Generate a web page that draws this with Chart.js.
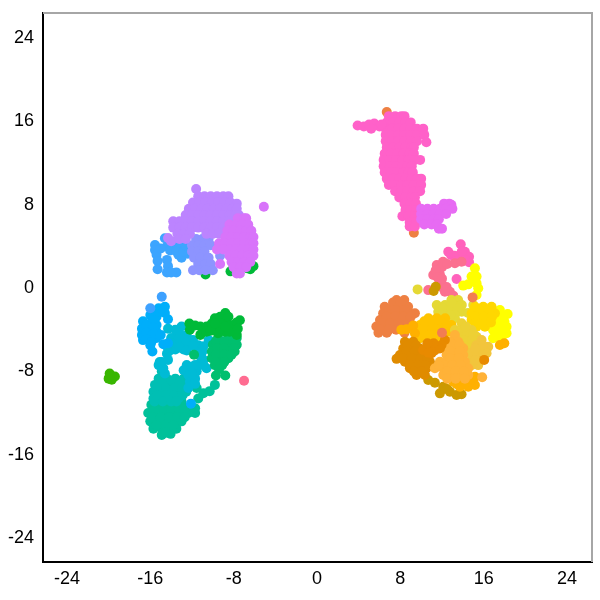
<!DOCTYPE html>
<html>
<head>
<meta charset="utf-8">
<script src="https://cdn.jsdelivr.net/npm/chart.js@4"></script>
<style>
html, body { margin: 0; padding: 0; background: #fff; }
#wrap { width: 600px; height: 600px; }
</style>
</head>
<body>
<div id="wrap"><canvas id="umapChart" width="600" height="600"></canvas></div>
<script>
var tickValues = [-24, -16, -8, 0, 8, 16, 24];

var tealLowerPts = [[-15.9,-11.3],[-15.1,-11.3],[-14.3,-11.3],[-13.6,-11.3],[-13,-11.3],[-13,-11],[-16.2,-12.1],[-15.4,-12.1],[-14.6,-12.1],[-13.8,-12.1],[-13,-12.1],[-12.35,-12.1],[-11.7,-12.1],[-16,-12.9],[-15.2,-12.9],[-14.4,-12.9],[-13.6,-12.9],[-13,-12.9],[-15.7,-13.6],[-14.9,-13.6],[-14.1,-13.6],[-13.5,-13.6],[-14.9,-14.2],[-14.05,-14.1],[-9.8,-9.4],[-10.3,-10],[-10.9,-10.2],[-11.4,-10.7],[-11.55,-9.7],[-11.7,-11.65],[-15.5,-11.7],[-14.7,-11.7],[-14,-11.7],[-13.3,-11.7],[-12.7,-11.7],[-15.8,-12.5],[-15,-12.5],[-14.2,-12.5],[-13.4,-12.5],[-12.7,-12.5],[-15.4,-13.25],[-14.5,-13.25],[-13.8,-13.25],[-14.5,-14]];
var tealUpperPts = [[-14.9,-8.1],[-15.2,-8.8],[-14.4,-8.8],[-13.6,-8.8],[-12.8,-8.8],[-15.55,-9.4],[-14.75,-9.4],[-13.95,-9.4],[-13.15,-9.4],[-12.55,-9.4],[-15.7,-10.05],[-14.9,-10.05],[-14.1,-10.05],[-13.3,-10.05],[-12.55,-10.05],[-15.7,-10.7],[-14.9,-10.7],[-14.1,-10.7],[-13.3,-10.7],[-14.8,-9.1],[-14,-9.1],[-13.2,-9.1],[-15.3,-9.7],[-14.5,-9.7],[-13.7,-9.7],[-12.9,-9.7],[-15.3,-10.4],[-14.5,-10.4],[-13.7,-10.4],[-12.9,-10.4],[-15.6,-11],[-14.8,-11],[-14,-11],[-13.5,-11]];
var cyanPts = [[-14.3,-4],[-13.6,-4.1],[-13,-3.8],[-13.15,-4.6],[-12.5,-4.6],[-14,-4.9],[-11.9,-5.1],[-12.2,-5.6],[-13,-5.4],[-13.6,-5.4],[-14.4,-5.7],[-11.4,-5.6],[-10.4,-5.1],[-10.9,-5.7],[-11.5,-6],[-11.1,-6.7],[-14.4,-6.4],[-15.1,-7.2],[-15.2,-7.5],[-14.3,-7],[-13.6,-6],[-12.8,-6],[-12.5,-7.5],[-12.8,-8],[-12,-7.65],[-11.2,-7.3],[-10.6,-7.8],[-11.55,-8.1],[-12.35,-8.45],[-12.2,-9.1],[-11.7,-8.8],[-14.6,-8.3],[-14.75,-7.8],[-10.9,-7],[-12.35,-9.7],[-13.3,-4.4],[-12.8,-5],[-13.3,-5],[-12.5,-5.3],[-13.9,-5.7],[-13.2,-5.8],[-12.5,-6.1],[-14.1,-6.1],[-14,-5.4],[-11.9,-5.6],[-11,-6.2],[-11.4,-6.5],[-10.9,-7.5],[-11.7,-7.5],[-12,-8.3],[-14.9,-7.2],[-11.7,-9.3]];
var skyPts = [[-15.2,-2.05],[-14.6,-1.9],[-14.6,-2.5],[-15.4,-2.85],[-16,-2.7],[-16.7,-3.3],[-16,-3.5],[-15.4,-3.65],[-16.8,-4],[-16,-4.1],[-15.4,-4.3],[-16.7,-5.1],[-16,-4.9],[-15.4,-4.9],[-15.8,-6.2],[-16,-5.6],[-14.3,-3.1],[-16.8,-4.6],[-14.3,-5.4],[-14.75,-5.5],[-12.1,-11.2],[-15.7,-3.1],[-16.4,-3.7],[-15.7,-3.9],[-16.4,-4.4],[-15.7,-4.5],[-16.4,-5],[-15.9,-5.3],[-15.1,-2.4],[-15.7,-2.3],[-15,-4.6]];
var blueTipPts = [[-14.9,-0.93],[-16,-2.05]];
var greenTealPts = [[-9.5,-4.9],[-8.5,-4.9],[-7.7,-4.9],[-10,-5.55],[-9.2,-5.55],[-8.35,-5.55],[-7.7,-5.55],[-10.1,-6.2],[-9.3,-6.2],[-8.5,-6.2],[-7.9,-6.2],[-10.1,-6.85],[-9.3,-6.85],[-8.5,-6.85],[-9.8,-7.5],[-9.1,-7.5],[-9.7,-8.5],[-8.8,-8.5],[-11.8,-6.5],[-9.7,-5.2],[-8.9,-5.2],[-8,-5.2],[-9.6,-5.9],[-8.9,-5.9],[-8,-5.9],[-9.7,-6.5],[-8.9,-6.5],[-8.2,-6.5],[-9.7,-7.2],[-8.9,-7.2],[-9.4,-7.9]];
var greenPts = [[-12.25,-3.5],[-12.2,-4.1],[-11.2,-3.8],[-11.2,-4.6],[-10.6,-3.8],[-9.8,-3],[-9.8,-4],[-8.8,-2.5],[-8.8,-3.3],[-8,-3.65],[-7.4,-3.2],[-8,-4.3],[-8.8,-4.3],[-9.5,-4.45],[-10.1,-3.5],[-9.3,-2.85],[-8.5,-2.85],[-7.7,-4.6],[-10.7,1.2],[-8.3,1.5],[-6.7,1.8],[-6.1,2],[-6.4,1.7],[-9.3,-3.5],[-8.4,-3.7],[-9.3,-4],[-8.4,-4.3],[-10.6,-4.3],[-10.2,-4.2],[-11.7,-3.7],[-9.8,-3.5],[-7.7,-3.4],[-8.8,-3.8],[-7.6,-4]];
var limePts = [[-19.9,-8.3],[-20,-8.8],[-19.7,-8.9],[-19.4,-8.6],[-19.9,-8.6]];
var coralDotPts = [[-7,-9]];
var bluePts = [[-15.55,4.03],[-15.55,3.55],[-15.4,3.1],[-15.3,2.5],[-15.3,1.7],[-14.6,4.67],[-14.4,3.9],[-13.8,3.9],[-13.2,3.9],[-12.7,3.6],[-13.3,3.1],[-13,2.8],[-14.4,2.6],[-14.3,2],[-14.4,1.4],[-13.5,1.4],[-14,1.4],[-15,3.7],[-14.1,3.5],[-13.5,3.4],[-12.4,3.2],[-12.8,3.4],[-12.6,4]];
var periwinklePts = [[-10.6,5.2],[-11.6,4.6],[-11,4.6],[-10.4,4.6],[-12,4],[-11.4,4],[-10.8,4],[-10.2,4],[-12,3.4],[-11.4,3.4],[-10.8,3.4],[-11.8,2.8],[-11.2,2.8],[-10.4,2.8],[-11.4,2.2],[-10.7,2.2],[-10.2,2.2],[-11.9,1.6],[-11.3,1.6],[-10.7,1.6],[-10,1.6],[-9.3,3]];
var violetPts = [[-11.6,9.4],[-11.4,8.7],[-10.8,8.7],[-10.2,8.7],[-9.6,8.7],[-9,8.7],[-8.5,8.7],[-11.9,8.1],[-11.3,8.1],[-10.7,8.1],[-10.1,8.1],[-9.5,8.1],[-8.9,8.1],[-8.3,8.1],[-7.7,8],[-12.3,7.5],[-11.7,7.5],[-11.1,7.5],[-10.5,7.5],[-9.9,7.5],[-9.3,7.5],[-8.7,7.5],[-8.1,7.5],[-7.7,7.5],[-12.6,6.9],[-12,6.9],[-11.4,6.9],[-10.8,6.9],[-10.2,6.9],[-9.6,6.9],[-9,6.9],[-8.4,6.9],[-7.8,6.9],[-7.5,6.9],[-13.8,6.3],[-13.2,6.3],[-12.6,6.3],[-12,6.3],[-11.4,6.3],[-10.8,6.3],[-10.2,6.3],[-9.6,6.3],[-9,6.3],[-8.4,6.3],[-13.8,5.7],[-13.2,5.7],[-12.6,5.7],[-12,5.7],[-11.4,5.7],[-10.8,5.7],[-10.2,5.7],[-9.6,5.7],[-9,5.7],[-13.4,5.1],[-12.8,5.1],[-12.2,5.1],[-10.6,5.1],[-10,5.1],[-9.4,5.1],[-14.3,4.7],[-14,4.4],[-13.2,4.6],[-12.6,4.6]];
var orchidPts = [[-5.1,7.7],[-7.6,6.6],[-7,6.6],[-6.8,6.6],[-8.4,6],[-7.8,6],[-7.2,6],[-6.6,6],[-8.6,5.4],[-8,5.4],[-7.4,5.4],[-6.8,5.4],[-6.3,5.4],[-8.8,4.8],[-8.2,4.8],[-7.6,4.8],[-7,4.8],[-6.4,4.8],[-6.1,4.8],[-9.4,4.2],[-8.8,4.2],[-8.2,4.2],[-7.6,4.2],[-7,4.2],[-6.4,4.2],[-6.1,4.2],[-9.6,3.6],[-9,3.6],[-8.4,3.6],[-7.8,3.6],[-7.2,3.6],[-6.6,3.6],[-6.1,3.6],[-8.4,3],[-7.8,3],[-7.2,3],[-6.6,3],[-6.1,3],[-8.2,2.4],[-7.6,2.4],[-7,2.4],[-6.4,2.4],[-8,1.9],[-7.4,1.9],[-6.8,1.9],[-7.7,1.3],[-7.4,1.3],[-9.3,2.2]];

var orangeTopPts = [[6.7,16.8],[9.3,5.2]];
var magentaPts = [[6.9,16.4],[7.5,16.4],[8.1,16.4],[8.4,16.4],[6.7,15.8],[7.3,15.8],[7.9,15.8],[8.5,15.8],[9,15.8],[6.6,15.2],[7.2,15.2],[7.8,15.2],[8.4,15.2],[9,15.2],[9.6,15.2],[10.2,15.2],[6.6,14.6],[7.2,14.6],[7.8,14.6],[8.4,14.6],[9,14.6],[9.6,14.6],[10.3,14.6],[6.6,14],[7.2,14],[7.8,14],[8.4,14],[9,14],[9.6,14],[10.5,13.9],[6.7,13.4],[7.3,13.4],[7.9,13.4],[8.5,13.4],[9.1,13.4],[9.3,13.4],[6.5,12.8],[7.1,12.8],[7.7,12.8],[8.3,12.8],[8.9,12.8],[9.3,12.8],[6.4,12.2],[7,12.2],[7.6,12.2],[8.2,12.2],[8.8,12.2],[9.9,12.2],[9.4,12.2],[6.4,11.6],[7,11.6],[7.6,11.6],[8.2,11.6],[8.7,11.6],[9.1,11.6],[6.5,11],[7.1,11],[7.7,11],[8.3,11],[8.8,11],[9.2,11],[6.7,10.4],[7.3,10.4],[7.9,10.4],[8.5,10.4],[9.1,10.4],[9.6,10.4],[10,10.4],[6.9,9.8],[7.5,9.8],[8.1,9.8],[8.7,9.8],[9.3,9.8],[10,9.8],[7.5,9.2],[8.1,9.2],[8.7,9.2],[9.3,9.2],[9.9,9.2],[7.9,8.6],[8.5,8.6],[9.1,8.6],[9.4,8.6],[8.4,8],[9,8],[9.5,8],[8.5,7.4],[9,7.4],[9.5,7.4],[8.2,6.8],[8.8,6.8],[9.4,6.8],[8.9,6.2],[9.5,6.2],[8.9,5.8],[9.4,5.8],[3.9,15.5],[4.5,15.4],[5,15.6],[5.5,15.7],[6,15.4],[5.2,15.2],[6.2,15.6]];
var pinkPurplePts = [[12.2,8],[12.7,8],[12.9,7.9],[10,7.5],[10.6,7.5],[11.2,7.5],[11.8,7.5],[12.4,7.5],[13,7.5],[10,7],[10.6,7],[11.2,7],[11.8,7],[12.4,7],[10,6.5],[10.6,6.5],[11.2,6.5],[11.7,6.5],[10.3,6],[11,6],[11.5,6],[11.7,5.6],[12,5.6]];

var pinkPts = [[12.6,3.39],[12.86,3.07],[13.8,4.1],[14.2,3.39],[14.6,2.91],[14.6,2.37],[13.88,2.91],[13.4,0.77],[13.4,2.9],[13.2,3],[13.9,3.4],[14.2,2.6],[13.3,2.5]];
var salmonPts = [[11.5,2.1],[12.1,2.43],[11.16,1.15],[11.8,1.2],[11.96,0.35],[12.44,0],[12.76,-0.45],[13.08,-0.83],[10.68,-0.3],[12.28,-0.45],[13.24,2.27],[13.88,2.43],[11.7,1.7],[12,1.9],[11.4,1.6],[12.5,2.2],[11.6,0.9],[12.1,-0.1],[12,0.8]];
var redOrangePts = [[14.94,-1],[12,-4.4]];
var orangePts = [[7.64,-1.25],[8.38,-1.25],[6.5,-1.9],[7.3,-1.9],[8.1,-1.9],[8.75,-1.9],[6.35,-2.53],[7.15,-2.53],[7.95,-2.53],[8.75,-2.53],[9.4,-2.53],[6.05,-3.17],[6.85,-3.17],[7.65,-3.17],[8.45,-3.17],[5.7,-3.8],[6.5,-3.8],[7.3,-3.8],[8.1,-3.8],[8.9,-3.8],[5.9,-4.4],[6.7,-4.4],[8.4,-4.4],[8.9,-3.4],[7.3,-1.5],[8,-1.5],[6.9,-2.2],[7.5,-2.2],[8.4,-2.2],[6.7,-2.85],[7.5,-2.85],[8.3,-2.85],[9,-2.85],[6.2,-3.5],[7,-3.5],[7.8,-3.5],[8.5,-3.6],[6.1,-4.1],[6.9,-4.1],[7.6,-4.1]];
var yellowPts = [[15.16,1.79],[14.84,1],[15.32,1],[15.32,0.35],[14.04,0.13],[14.52,0.25],[15.48,-0.13],[15.32,-0.77],[18.3,-2.6],[17.56,-2.21],[17.4,-3],[18,-3.33],[18.2,-3.81],[17.4,-3.81],[17.56,-4.45],[18.2,-4.45],[16.9,-4.13],[16.9,-4.93],[17.7,-4.93],[17.8,-2.8],[17.7,-3.4],[17.8,-4.1],[17.1,-3.6],[17.2,-4.5],[17.3,-3.3],[17.9,-4.5]];
var oliveYellowPts = [[9.66,-0.23],[12.9,-1.25],[13.55,-1.25],[11.5,-1.73],[12.3,-1.73],[13.1,-1.73],[13.9,-1.73],[11.64,-2.37],[12.44,-2.37],[13.24,-2.37],[13.9,-2.37],[12.44,-3],[13.24,-3],[15,-1.73],[14.5,-2.5],[12.1,-2.05],[12.9,-2.05],[13.5,-2.05],[12.9,-1.5],[13.2,-2.7],[12.8,-2.7],[12,-2.7]];
var darkGoldPts = [[11.4,0.03],[11.2,-0.39],[10.68,-8.93],[11.32,-9.19],[12.12,-9.57],[11.8,-10.21],[12.76,-10.05],[13.4,-10.37],[13.88,-10.3],[12.5,-9.8]];
var goldPts = [[15.16,-1.89],[15.96,-1.89],[16.76,-1.89],[14.84,-2.53],[15.64,-2.53],[16.44,-2.53],[17.08,-2.53],[14.84,-3.17],[15.64,-3.17],[16.44,-3.17],[15.32,-3.81],[16.12,-3.81],[15.5,-2.2],[16.3,-2.2],[15.2,-2.85],[16,-2.85],[16.8,-2.85],[15.2,-3.5],[16,-3.5],[16.7,-3.4]];
var amberPts = [[10.7,-3],[11.5,-3],[12.3,-3],[9.9,-3.65],[10.7,-3.65],[11.5,-3.65],[12.3,-3.65],[12.9,-3.65],[9.7,-4.3],[10.5,-4.3],[11.3,-4.3],[12.1,-4.3],[12.75,-4.3],[9.9,-4.93],[10.7,-4.93],[11.5,-4.93],[11.1,-3.3],[11.9,-3.3],[10.3,-3.3],[10.3,-4],[11.1,-4],[11.9,-4],[12.6,-4],[10.1,-4.6],[10.9,-4.6],[11.7,-4.6]];
var amberDarkPts = [[8.1,-4.1],[8.6,-4.05],[9.24,-3.7],[9.4,-4.45],[17.56,-5.57],[17.98,-5.41],[13.08,-9.09],[13.88,-9.09],[14.68,-9.09],[13.72,-9.57],[14.52,-9.57],[15.16,-9.41],[15.16,-8.61],[13.4,-9.3],[14.2,-9.3],[14.9,-8.9]];
var brownOrangePts = [[8.44,-5.25],[9.24,-5.25],[8.28,-5.9],[9.08,-5.9],[9.88,-5.9],[7.96,-6.53],[8.76,-6.53],[9.56,-6.53],[10.36,-6.53],[7.64,-6.9],[8.44,-7.17],[9.24,-7.17],[10.04,-7.17],[10.84,-7.17],[8.92,-7.81],[9.72,-7.81],[10.52,-7.81],[9.56,-8.45],[10.36,-8.45],[8.7,-5.6],[9.5,-5.6],[8.6,-6.2],[9.4,-6.2],[10.1,-6.3],[8.3,-6.85],[9.1,-6.85],[9.9,-6.85],[10.6,-6.85],[8.9,-7.5],[9.7,-7.5],[10.4,-7.5],[9.3,-8.1],[10.1,-8.1]];
var deepOrangePts = [[10.68,-5.9],[11.48,-5.73],[12.28,-5.09],[11.96,-5.57],[11,-6.37],[10.2,-6.05],[16.05,-7],[11.3,-6.1],[10.7,-6.3],[11.8,-5.9],[11.2,-5.4],[10.6,-5.4]];
var khakiPts = [[13.88,-3.49],[13.24,-4.13],[14.04,-4.13],[14.84,-4.13],[13.72,-4.77],[14.52,-4.77],[15.32,-4.77],[13.88,-5.41],[14.68,-5.41],[15.48,-5.41],[14.2,-5.9],[14.84,-5.9],[13.6,-4.4],[14.4,-4.4],[15,-4.5],[14.1,-5.1],[14.9,-5.1],[14.3,-3.8],[14.5,-5.9]];
var sandPts = [[15.8,-5.09],[15.3,-5.6],[16.44,-5.73],[15.8,-6.05],[15,-6.21],[16.28,-6.37],[14.84,-7],[15.64,-6.85],[14.84,-6.4],[15.48,-7.5],[14.84,-7.5],[15.4,-6.4],[15.2,-7],[16,-6.3],[15.9,-5.6],[15.2,-5.9]];
var lightAmberPts = [[13.24,-4.61],[12.76,-5.25],[13.56,-5.25],[12.6,-5.89],[13.4,-5.89],[14.04,-5.89],[12.44,-6.53],[13.24,-6.53],[14.04,-6.53],[11.8,-7.17],[12.6,-7.17],[13.4,-7.17],[14.2,-7.17],[11.32,-7.81],[12.12,-7.81],[12.92,-7.81],[13.72,-7.81],[14.52,-7.81],[12.12,-8.45],[12.92,-8.45],[13.72,-8.45],[14.52,-8.45],[15.86,-8.67],[13,-5.55],[13.7,-5.55],[12.9,-6.2],[13.7,-6.2],[12.8,-6.85],[13.6,-6.85],[12.2,-7.5],[13,-7.5],[13.8,-7.5],[12.5,-8.1],[13.3,-8.1],[14.1,-8.1],[12.5,-8.8],[13.3,-8.8],[14.2,-8.8],[11.7,-7.5]];

var clusterNames = ['tealLower','tealUpper','cyan','sky','blueTip','greenTeal','green','lime','coralDot','blue','periwinkle','violet','orchid','orangeTop','magenta','pinkPurple','pink','salmon','orange','yellow','oliveYellow','darkGold','gold','amber','amberDark','brownOrange','khaki','sand','lightAmber','deepOrange','redOrange'];
var clusterPoints = [tealLowerPts,tealUpperPts,cyanPts,skyPts,blueTipPts,greenTealPts,greenPts,limePts,coralDotPts,bluePts,periwinklePts,violetPts,orchidPts,orangeTopPts,magentaPts,pinkPurplePts,pinkPts,salmonPts,orangePts,yellowPts,oliveYellowPts,darkGoldPts,goldPts,amberPts,amberDarkPts,brownOrangePts,khakiPts,sandPts,lightAmberPts,deepOrangePts,redOrangePts];
var clusterColors = ['#00C19A','#00BFB4','#00BBD6','#00AEFA','#3DA1FF','#00BF6E','#00BA38','#39B600','#FF6C91','#3DA5FF','#8D94FF','#BC84FF','#D874FA','#EE8043','#FF61C9','#E76BF3','#FF62BC','#FB7090','#EE8043','#FFFF00','#E5D935','#CC9900','#FFD700','#FFC400','#FFB000','#E08B00','#EDD034','#F2C53C','#FFB238','#E88A00','#F27D52'];

// chart.js paints the first dataset on top, so the list goes in reversed
var datasets = clusterNames.map(function (name, i) {
    return {
        label: name,
        data: clusterPoints[i].map(function (p) { return { x: p[0], y: p[1] }; }),
        backgroundColor: clusterColors[i],
        pointRadius: 5,
        pointBorderWidth: 0,
        showLine: false
    };
}).reverse();

var framePlugin = {
    id: 'frameTopRight',
    afterDraw: function (chart) {
        var a = chart.chartArea, ctx = chart.ctx;
        ctx.save();
        ctx.strokeStyle = '#a6a6a6';
        ctx.lineWidth = 2;
        ctx.beginPath();
        ctx.moveTo(a.left, a.top);
        ctx.lineTo(a.right, a.top);
        ctx.lineTo(a.right, a.bottom);
        ctx.stroke();
        ctx.restore();
    }
};

function axisOptions(min, max) {
    return {
        type: 'linear',
        min: min,
        max: max,
        grid: { display: false, drawTicks: true, tickLength: 4, tickColor: '#000000', tickWidth: 1 },
        border: { display: true, color: '#000000', width: 2 },
        ticks: {
            color: '#000000',
            font: { family: '"Liberation Sans", Arial, sans-serif', size: 18 },
            padding: 3,
            maxRotation: 0,
            autoSkip: false,
            callback: function (v) { return String(v); }
        },
        afterBuildTicks: function (axis) {
            axis.ticks = tickValues.map(function (v) { return { value: v }; });
        }
    };
}

// the edge labels sit well inside, so drop the extra padding chart.js reserves for them
var xAxis = axisOptions(-26.3, 26.4);
xAxis.ticks.padding = 2;
xAxis.afterFit = function (scale) {
    scale.height = 38;
    scale.paddingLeft = 0;
    scale.paddingRight = 0;
};
var yAxis = axisOptions(-26.4, 26.3);
yAxis.ticks.padding = 5;
yAxis.ticks.labelOffset = 1;
yAxis.afterFit = function (scale) {
    scale.width = 43;
    scale.paddingTop = 0;
    scale.paddingBottom = 0;
};

new Chart(document.getElementById('umapChart').getContext('2d'), {
    type: 'scatter',
    data: { datasets: datasets },
    options: {
        responsive: false,
        animation: false,
        layout: { padding: { top: 13, right: 8, left: 0, bottom: 0 } },
        plugins: { legend: { display: false }, tooltip: { enabled: false } },
        scales: { x: xAxis, y: yAxis }
    },
    plugins: [framePlugin]
});
</script>
</body>
</html>
